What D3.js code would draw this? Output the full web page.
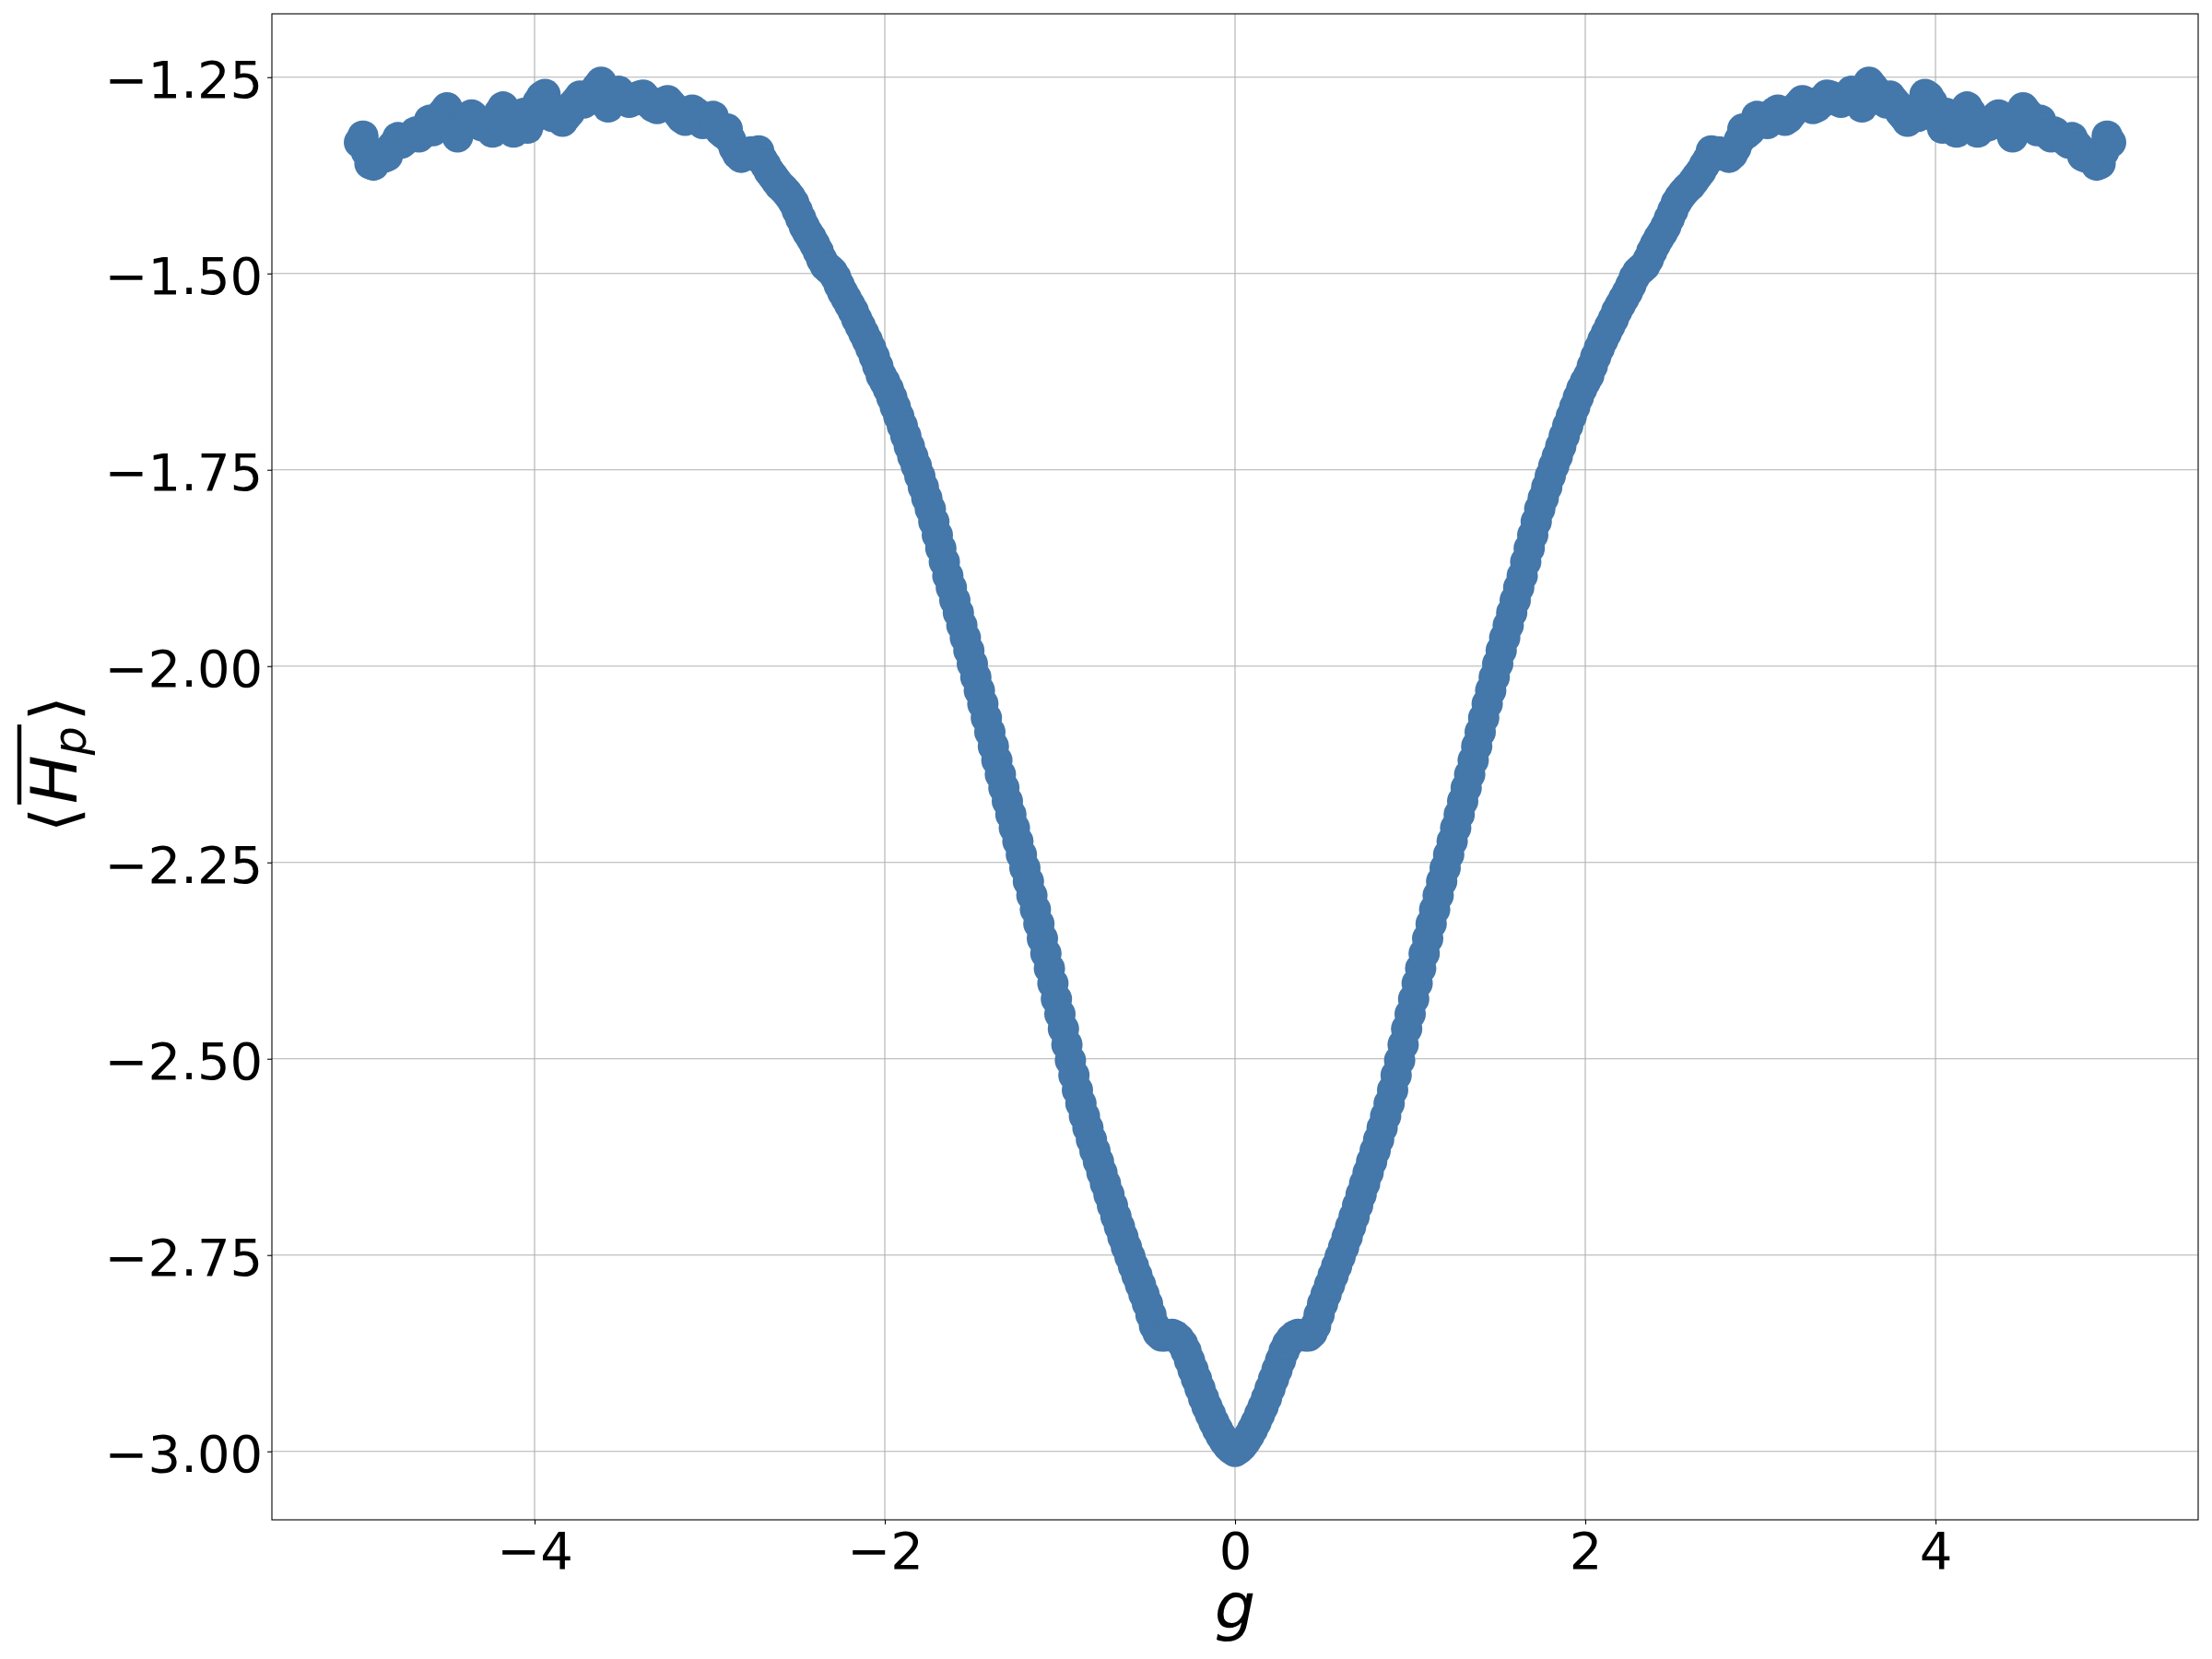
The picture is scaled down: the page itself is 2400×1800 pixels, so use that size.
<!DOCTYPE html>
<html><head><meta charset="utf-8">
<script src="https://cdn.jsdelivr.net/npm/d3@7"></script>
<style>html,body{margin:0;padding:0;background:#fff;} svg{display:block;}</style>
</head><body>
<svg id="chart" width="2400" height="1800"></svg>
<script>
// ---- data ----
const xTicks = [-4, -2, 0, 2, 4];
const yTicks = [-3.00, -2.75, -2.50, -2.25, -2.00, -1.75, -1.50, -1.25];
// g sample grid: -5.00 ... 5.00, step 0.02 (501 samples)
const gValues = d3.range(501).map(i => Math.round((-5 + 0.02 * i) * 100) / 100);
// <H_p> for g = -5.00 ... 0.00
const hLeft = [
-1.333,-1.325,-1.345,-1.360,-1.362,-1.355,-1.348,-1.352,-1.350,-1.340,
-1.335,-1.327,-1.334,-1.330,-1.327,-1.325,-1.320,-1.326,-1.322,-1.315,
-1.305,-1.318,-1.310,-1.300,-1.295,-1.289,-1.305,-1.315,-1.326,-1.315,
-1.310,-1.305,-1.298,-1.302,-1.310,-1.312,-1.308,-1.315,-1.320,-1.305,
-1.295,-1.288,-1.300,-1.312,-1.320,-1.308,-1.300,-1.296,-1.315,-1.305,
-1.290,-1.282,-1.275,-1.272,-1.290,-1.300,-1.292,-1.298,-1.306,-1.300,
-1.295,-1.285,-1.280,-1.274,-1.283,-1.280,-1.275,-1.268,-1.262,-1.2565,
-1.275,-1.288,-1.280,-1.272,-1.268,-1.275,-1.278,-1.282,-1.280,-1.276,
-1.274,-1.273,-1.278,-1.284,-1.288,-1.290,-1.285,-1.282,-1.280,-1.285,
-1.290,-1.296,-1.302,-1.305,-1.298,-1.292,-1.295,-1.303,-1.309,-1.305,
-1.301,-1.300,-1.310,-1.318,-1.322,-1.316,-1.330,-1.340,-1.348,-1.352,
-1.348,-1.346,-1.345,-1.350,-1.344,-1.355,-1.362,-1.370,-1.376,-1.382,
-1.388,-1.392,-1.397,-1.403,-1.410,-1.420,-1.430,-1.440,-1.448,-1.455,
-1.463,-1.472,-1.482,-1.490,-1.494,-1.498,-1.505,-1.515,-1.524,-1.532,
-1.540,-1.548,-1.558,-1.567,-1.576,-1.585,-1.595,-1.606,-1.618,-1.630,
-1.638,-1.647,-1.658,-1.670,-1.682,-1.694,-1.707,-1.720,-1.733,-1.745,
-1.758,-1.772,-1.786,-1.800,-1.816,-1.833,-1.850,-1.867,-1.885,-1.900,
-1.916,-1.932,-1.948,-1.964,-1.980,-1.997,-2.014,-2.031,-2.048,-2.066,
-2.084,-2.102,-2.120,-2.138,-2.155,-2.172,-2.189,-2.206,-2.223,-2.240,
-2.257,-2.274,-2.292,-2.310,-2.328,-2.347,-2.366,-2.385,-2.404,-2.424,
-2.443,-2.462,-2.482,-2.502,-2.521,-2.540,-2.557,-2.573,-2.588,-2.603,
-2.617,-2.631,-2.645,-2.659,-2.673,-2.687,-2.701,-2.714,-2.727,-2.740,
-2.752,-2.764,-2.776,-2.788,-2.800,-2.812,-2.826,-2.840,-2.849,-2.853,
-2.853,-2.852,-2.851,-2.853,-2.857,-2.863,-2.872,-2.884,-2.896,-2.908,
-2.920,-2.932,-2.943,-2.953,-2.963,-2.972,-2.980,-2.987,-2.993,-2.997,
-3.000
];
// <H_p> for g = 0.02 ... 5.00
const hRight = [
-2.997,-2.993,-2.987,-2.980,-2.972,-2.963,-2.953,-2.943,-2.932,-2.920,
-2.908,-2.896,-2.884,-2.872,-2.863,-2.857,-2.853,-2.851,-2.852,-2.853,
-2.853,-2.849,-2.840,-2.826,-2.812,-2.800,-2.788,-2.776,-2.764,-2.752,
-2.740,-2.727,-2.714,-2.701,-2.687,-2.673,-2.659,-2.645,-2.631,-2.617,
-2.603,-2.588,-2.573,-2.557,-2.540,-2.521,-2.502,-2.482,-2.462,-2.443,
-2.424,-2.404,-2.385,-2.366,-2.347,-2.328,-2.310,-2.292,-2.274,-2.257,
-2.240,-2.223,-2.206,-2.189,-2.172,-2.155,-2.138,-2.120,-2.102,-2.084,
-2.066,-2.048,-2.031,-2.014,-1.997,-1.980,-1.964,-1.948,-1.932,-1.916,
-1.900,-1.885,-1.867,-1.850,-1.833,-1.816,-1.800,-1.786,-1.772,-1.758,
-1.745,-1.733,-1.720,-1.707,-1.694,-1.682,-1.670,-1.658,-1.647,-1.638,
-1.630,-1.618,-1.606,-1.595,-1.585,-1.576,-1.567,-1.558,-1.548,-1.540,
-1.532,-1.524,-1.515,-1.505,-1.498,-1.494,-1.490,-1.482,-1.472,-1.463,
-1.455,-1.448,-1.440,-1.430,-1.420,-1.410,-1.403,-1.397,-1.392,-1.388,
-1.382,-1.376,-1.370,-1.362,-1.355,-1.344,-1.350,-1.345,-1.346,-1.348,
-1.352,-1.348,-1.340,-1.330,-1.316,-1.322,-1.318,-1.310,-1.300,-1.301,
-1.305,-1.309,-1.303,-1.295,-1.292,-1.298,-1.305,-1.302,-1.296,-1.290,
-1.285,-1.280,-1.282,-1.285,-1.290,-1.288,-1.284,-1.278,-1.273,-1.274,
-1.276,-1.280,-1.282,-1.278,-1.275,-1.268,-1.272,-1.280,-1.288,-1.275,
-1.2565,-1.262,-1.268,-1.275,-1.280,-1.283,-1.274,-1.280,-1.285,-1.295,
-1.300,-1.306,-1.298,-1.292,-1.300,-1.290,-1.272,-1.275,-1.282,-1.290,
-1.305,-1.315,-1.296,-1.300,-1.308,-1.320,-1.312,-1.300,-1.288,-1.295,
-1.305,-1.320,-1.315,-1.308,-1.312,-1.310,-1.302,-1.298,-1.305,-1.310,
-1.315,-1.326,-1.315,-1.305,-1.289,-1.295,-1.300,-1.310,-1.318,-1.305,
-1.315,-1.322,-1.326,-1.320,-1.325,-1.327,-1.330,-1.334,-1.327,-1.335,
-1.340,-1.350,-1.352,-1.348,-1.355,-1.362,-1.360,-1.345,-1.325,-1.333
];
const hValues = hLeft.concat(hRight);
const points = gValues.map((g, i) => ({g, h: hValues[i]}));

// ---- layout ----
const plot = {left: 295, right: 2385, top: 15, bottom: 1649};
const FONT = "DejaVu Sans";
const COLOR = "#4477aa";

const svg = d3.select("#chart");
svg.append("rect").attr("width", 2400).attr("height", 1800).attr("fill", "#fff");

const xe = d3.extent(gValues), ye = d3.extent(hValues);
const xp = (xe[1] - xe[0]) * 0.05, yp = (ye[1] - ye[0]) * 0.05;
const x = d3.scaleLinear().domain([xe[0] - xp, xe[1] + xp]).range([plot.left, plot.right]);
const y = d3.scaleLinear().domain([ye[0] - yp, ye[1] + yp]).range([plot.bottom, plot.top]);

// grid
const grid = svg.append("g").attr("stroke", "#b0b0b0").attr("stroke-width", 1.1);
grid.selectAll("line.gx").data(xTicks).join("line").attr("class", "gx")
  .attr("x1", d => x(d)).attr("x2", d => x(d)).attr("y1", plot.top).attr("y2", plot.bottom);
grid.selectAll("line.gy").data(yTicks).join("line").attr("class", "gy")
  .attr("y1", d => y(d)).attr("y2", d => y(d)).attr("x1", plot.left).attr("x2", plot.right);

// markers
svg.append("g").selectAll("circle").data(points).join("circle")
  .attr("cx", d => x(d.g)).attr("cy", d => y(d.h)).attr("r", 17).attr("fill", COLOR);

// axes
const xAxis = svg.append("g").attr("transform", `translate(0,${plot.bottom})`)
  .call(d3.axisBottom(x).tickValues(xTicks).tickSize(4.9).tickFormat(d3.format("d")));
xAxis.select(".domain").remove();
xAxis.selectAll("line").attr("stroke", "#000").attr("stroke-width", 1.1);
xAxis.selectAll("text").attr("font-family", FONT).attr("font-size", 56).attr("fill", "#000")
  .attr("y", 53).attr("dy", null);

const yAxis = svg.append("g").attr("transform", `translate(${plot.left},0)`)
  .call(d3.axisLeft(y).tickValues(yTicks).tickSize(4.9).tickPadding(4.9).tickFormat(d3.format(".2f")));
yAxis.select(".domain").remove();
yAxis.selectAll("line").attr("stroke", "#000").attr("stroke-width", 1.1);
yAxis.selectAll("text").attr("font-family", FONT).attr("font-size", 56).attr("fill", "#000")
  .attr("dy", null).attr("y", 21.5);

// frame
svg.append("rect").attr("x", plot.left).attr("y", plot.top)
  .attr("width", plot.right - plot.left).attr("height", plot.bottom - plot.top)
  .attr("fill", "none").attr("stroke", "#000").attr("stroke-width", 1.1);

// x label
svg.append("text").attr("x", (plot.left + plot.right) / 2).attr("y", 1767)
  .attr("text-anchor", "middle").attr("font-family", FONT).attr("font-size", 70)
  .attr("font-style", "italic").text("g");

// y label  ⟨ overline(H_p) ⟩
const yl = svg.append("g").attr("transform", "translate(83,829) rotate(-90)");
const yt = yl.append("text").attr("font-family", FONT).attr("font-size", 70).attr("text-anchor", "middle");
yt.append("tspan").text("\u27E8");
yt.append("tspan").attr("font-style", "italic").attr("dx", 4).text("H");
yt.append("tspan").attr("font-style", "italic").attr("font-size", 49).attr("dy", 10).text("p");
yt.append("tspan").attr("dy", -10).attr("dx", 6).text("\u27E9");
const tn = yt.node();
const s0 = tn.getStartPositionOfChar(1).x, e0 = tn.getEndPositionOfChar(2).x;
yl.append("line").attr("x1", s0 - 1).attr("x2", e0 + 2).attr("y1", -62).attr("y2", -62)
  .attr("stroke", "#000").attr("stroke-width", 4.5);
</script>
</body></html>
